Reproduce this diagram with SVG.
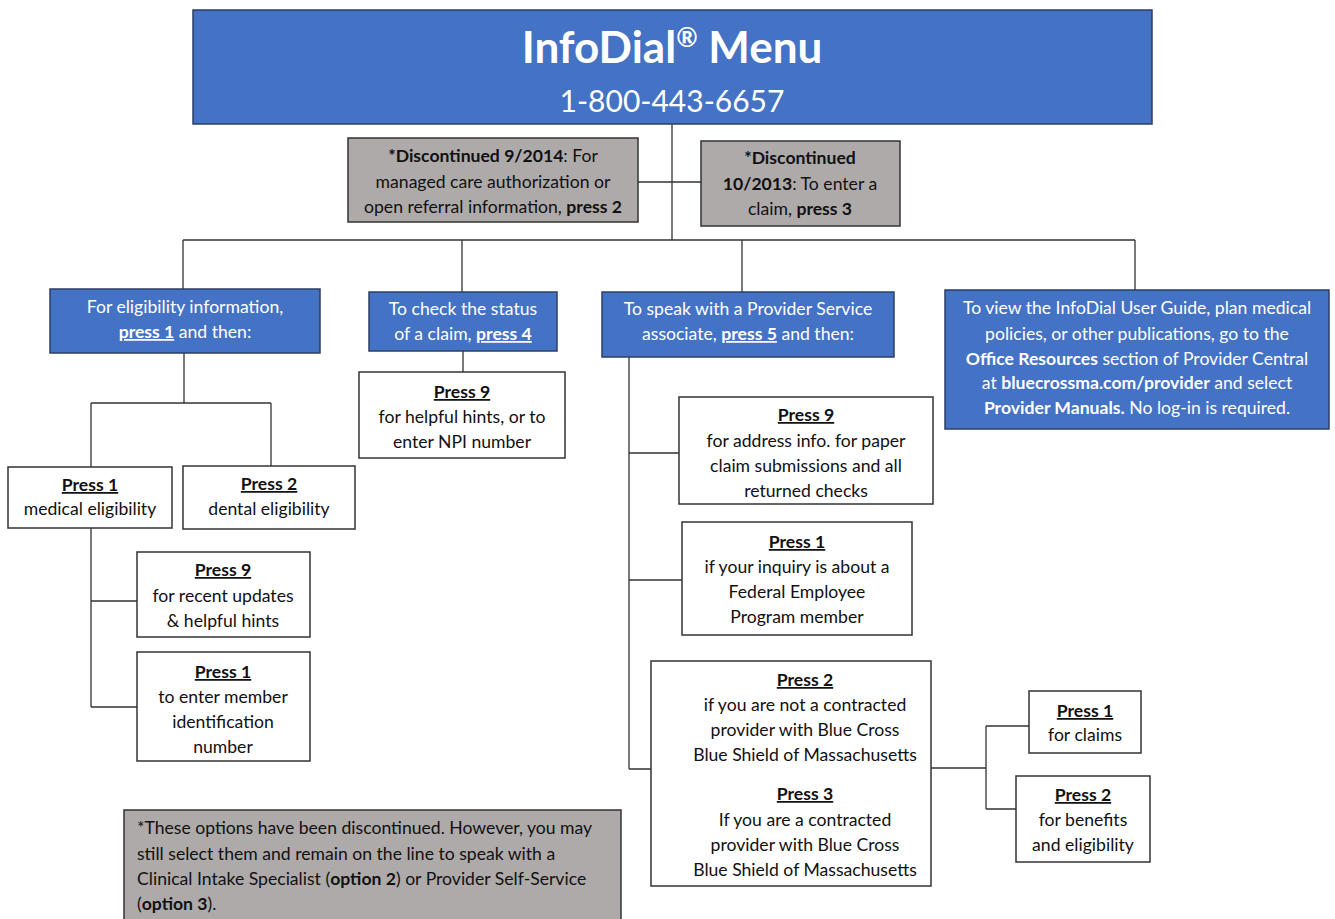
<svg xmlns="http://www.w3.org/2000/svg" width="1335" height="919" viewBox="0 0 1335 919">
<style>
text{font-family:Lato,"Open Sans","Liberation Sans",sans-serif;font-size:17.6px;fill:#111;text-anchor:middle}
.w{fill:#fff}
.l{text-anchor:start}
.b{font-weight:bold}
.u{text-decoration:underline}
.blue{fill:#4472C4;stroke:#2b3f66;stroke-width:1.5}
.gray{fill:#AEAAAA;stroke:#333;stroke-width:1.5}
.box{fill:#fff;stroke:#333;stroke-width:1.5}
.c{fill:none;stroke:#333;stroke-width:1.3}
</style>
<rect width="1335" height="919" fill="#fff"/>
<g id="connectors">
<path class="c" d="M672 124V240M638 182H701M183 240H1135M183 240V289M462 240V292M742 240V292M1135 240V290"/>
<path class="c" d="M463 351V372"/>
<path class="c" d="M184 353V403M91 403H271M91 403V467M271 403V466M91 528V707M91 601H137M91 707H137"/>
<path class="c" d="M629 357V769M629 453H679M629 580H682M629 769H651"/>
<path class="c" d="M931 768H986M986 726V809M986 726H1029M986 809H1016"/>
</g>
<g id="header">
<rect class="blue" x="193" y="10" width="959" height="114"/>
<text class="w b" x="672" y="63" style="font-size:44px">InfoDial<tspan style="font-size:26px" dy="-16">®</tspan><tspan dy="16"> Menu</tspan></text>
<text class="w" x="672" y="112" style="font-size:30px">1-800-443-6657</text>
</g>
<g id="disc-press2">
<rect class="gray" x="348" y="138" width="290" height="84"/>
<text x="493" y="162"><tspan class="b">*Discontinued 9/2014</tspan>: For</text>
<text x="493" y="188">managed care authorization or</text>
<text x="493" y="213">open referral information, <tspan class="b">press 2</tspan></text>
</g>
<g id="disc-press3">
<rect class="gray" x="701" y="141" width="199" height="85"/>
<text x="800" y="164" class="b">*Discontinued</text>
<text x="800" y="190"><tspan class="b">10/2013</tspan>: To enter a</text>
<text x="800" y="215">claim, <tspan class="b">press 3</tspan></text>
</g>
<g id="eligibility">
<rect class="blue" x="50" y="289" width="270" height="64"/>
<text class="w" x="185" y="313">For eligibility information,</text>
<text class="w" x="185" y="338"><tspan class="b u">press 1</tspan> and then:</text>
</g>
<g id="claim-status">
<rect class="blue" x="369" y="292" width="188" height="59"/>
<text class="w" x="463" y="315">To check the status</text>
<text class="w" x="463" y="340">of a claim, <tspan class="b u">press 4</tspan></text>
</g>
<g id="provider-service">
<rect class="blue" x="602" y="292" width="292" height="65"/>
<text class="w" x="748" y="315">To speak with a Provider Service</text>
<text class="w" x="748" y="340">associate, <tspan class="b u">press 5</tspan> and then:</text>
</g>
<g id="user-guide">
<rect class="blue" x="945" y="290" width="384" height="139"/>
<text class="w" x="1137" y="314">To view the InfoDial User Guide, plan medical</text>
<text class="w" x="1137" y="340">policies, or other publications, go to the</text>
<text class="w" x="1137" y="365"><tspan class="b">Office Resources</tspan> section of Provider Central</text>
<text class="w" x="1137" y="389">at <tspan class="b">bluecrossma.com/provider</tspan> and select</text>
<text class="w" x="1137" y="414"><tspan class="b">Provider Manuals.</tspan> No log-in is required.</text>
</g>
<g id="status-press9">
<rect class="box" x="359" y="372" width="206" height="86"/>
<text x="462" y="398" class="b u">Press 9</text>
<text x="462" y="423">for helpful hints, or to</text>
<text x="462" y="448">enter NPI number</text>
</g>
<g id="medical">
<rect class="box" x="8" y="467" width="164" height="61"/>
<text x="90" y="491" class="b u">Press 1</text>
<text x="90" y="515">medical eligibility</text>
</g>
<g id="dental">
<rect class="box" x="183" y="466" width="172" height="63"/>
<text x="269" y="490" class="b u">Press 2</text>
<text x="269" y="515">dental eligibility</text>
</g>
<g id="recent-updates">
<rect class="box" x="137" y="552" width="173" height="85"/>
<text x="223" y="576" class="b u">Press 9</text>
<text x="223" y="602">for recent updates</text>
<text x="223" y="627">&amp; helpful hints</text>
</g>
<g id="member-id">
<rect class="box" x="137" y="652" width="173" height="109"/>
<text x="223" y="678" class="b u">Press 1</text>
<text x="223" y="703">to enter member</text>
<text x="223" y="728">identification</text>
<text x="223" y="753">number</text>
</g>
<g id="note">
<rect class="gray" x="124" y="810" width="497" height="115"/>
<text class="l" x="137" y="834">*These options have been discontinued. However, you may</text>
<text class="l" x="137" y="860">still select them and remain on the line to speak with a</text>
<text class="l" x="137" y="885">Clinical Intake Specialist (<tspan class="b">option 2</tspan>) or Provider Self-Service</text>
<text class="l" x="137" y="910">(<tspan class="b">option 3</tspan>).</text>
</g>
<g id="address">
<rect class="box" x="679" y="397" width="254" height="107"/>
<text x="806" y="421" class="b u">Press 9</text>
<text x="806" y="447">for address info. for paper</text>
<text x="806" y="472">claim submissions and all</text>
<text x="806" y="497">returned checks</text>
</g>
<g id="federal">
<rect class="box" x="682" y="522" width="230" height="113"/>
<text x="797" y="548" class="b u">Press 1</text>
<text x="797" y="573">if your inquiry is about a</text>
<text x="797" y="598">Federal Employee</text>
<text x="797" y="623">Program member</text>
</g>
<g id="contracted">
<rect class="box" x="651" y="661" width="280" height="225"/>
<text x="805" y="686" class="b u">Press 2</text>
<text x="805" y="711">if you are not a contracted</text>
<text x="805" y="736">provider with Blue Cross</text>
<text x="805" y="761">Blue Shield of Massachusetts</text>
<text x="805" y="800" class="b u">Press 3</text>
<text x="805" y="826">If you are a contracted</text>
<text x="805" y="851">provider with Blue Cross</text>
<text x="805" y="876">Blue Shield of Massachusetts</text>
</g>
<g id="claims">
<rect class="box" x="1029" y="691" width="112" height="62"/>
<text x="1085" y="717" class="b u">Press 1</text>
<text x="1085" y="741">for claims</text>
</g>
<g id="benefits">
<rect class="box" x="1016" y="776" width="134" height="86"/>
<text x="1083" y="801" class="b u">Press 2</text>
<text x="1083" y="826">for benefits</text>
<text x="1083" y="851">and eligibility</text>
</g>
</svg>
